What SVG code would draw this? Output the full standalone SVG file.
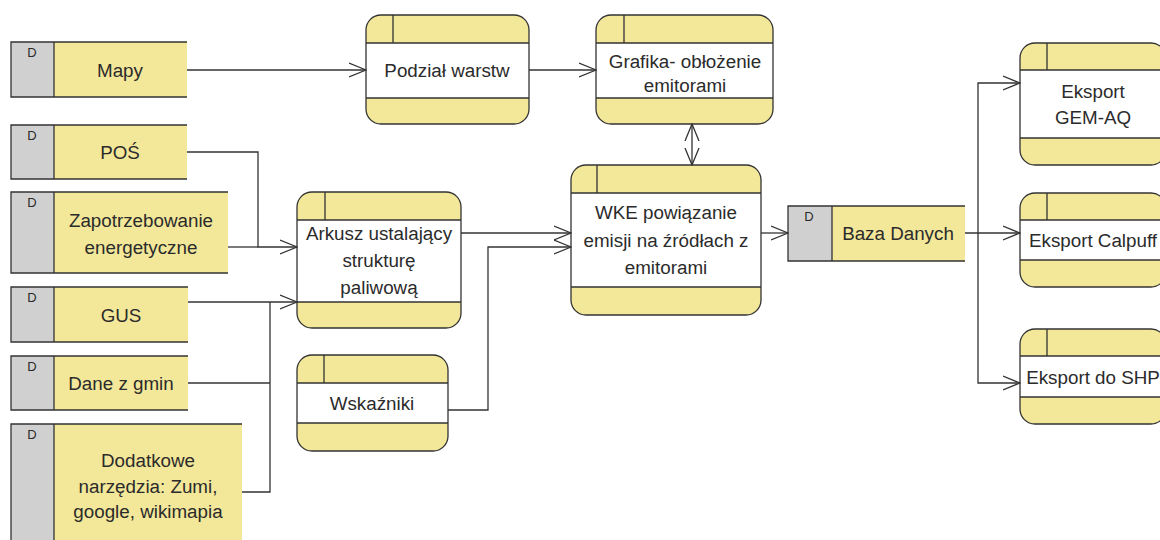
<svg xmlns="http://www.w3.org/2000/svg" width="1160" height="540" viewBox="0 0 1160 540">
  <defs>
    <style>
      .bg { fill: #ffffff; }
      .yel { fill: #f3e89a; }
      .gray { fill: #d0d0d0; }
      .body { fill: #ffffff; }
      .ln { stroke: #333333; stroke-width: 1.3; fill: none; }
      .t { font-family: "Liberation Sans", Arial, sans-serif; font-size: 18.8px; fill: #2b2b2b; text-anchor: middle; }
      .d { font-family: "Liberation Sans", Arial, sans-serif; font-size: 13px; fill: #2b2b2b; text-anchor: middle; }
      .conn { stroke: #333333; stroke-width: 1.3; fill: none; }
    </style>
    <marker id="arrow" viewBox="0 0 18 16" refX="17" refY="8" markerWidth="18" markerHeight="16" markerUnits="userSpaceOnUse" orient="auto-start-reverse">
      <path d="M0,1 L17,8 L0,15" fill="none" stroke="#333333" stroke-width="1.3"/>
    </marker>
  </defs>

  <rect class="bg" x="0" y="0" width="1160" height="540"/>

  <!-- data stores: grey tag with "D", yellow body, open on the right -->
  <g id="store-mapy">
    <rect class="gray" x="11" y="42" width="43" height="55"/>
    <rect class="yel" x="54" y="42" width="133" height="55"/>
    <path class="ln" d="M187,42 H11 V97 H187 M54,42 V97"/>
    <text class="d" x="32" y="57">D</text>
    <text class="t" x="120" y="77">Mapy</text>
  </g>
  <g id="store-pos">
    <rect class="gray" x="11" y="125" width="43" height="54"/>
    <rect class="yel" x="54" y="125" width="133" height="54"/>
    <path class="ln" d="M187,125 H11 V179 H187 M54,125 V179"/>
    <text class="d" x="32" y="140">D</text>
    <text class="t" x="120" y="159">POŚ</text>
  </g>
  <g id="store-zapotrzebowanie">
    <rect class="gray" x="11" y="192" width="43" height="81"/>
    <rect class="yel" x="54" y="192" width="174" height="81"/>
    <path class="ln" d="M228,192 H11 V273 H228 M54,192 V273"/>
    <text class="d" x="32" y="207">D</text>
    <text class="t" x="141" y="227">Zapotrzebowanie</text>
    <text class="t" x="141" y="254">energetyczne</text>
  </g>
  <g id="store-gus">
    <rect class="gray" x="11" y="287" width="43" height="55"/>
    <rect class="yel" x="54" y="287" width="134" height="55"/>
    <path class="ln" d="M188,287 H11 V342 H188 M54,287 V342"/>
    <text class="d" x="32" y="302">D</text>
    <text class="t" x="121" y="322">GUS</text>
  </g>
  <g id="store-dane-z-gmin">
    <rect class="gray" x="11" y="356" width="43" height="54"/>
    <rect class="yel" x="54" y="356" width="134" height="54"/>
    <path class="ln" d="M188,356 H11 V410 H188 M54,356 V410"/>
    <text class="d" x="32" y="371">D</text>
    <text class="t" x="121" y="390">Dane z gmin</text>
  </g>
  <g id="store-dodatkowe">
    <rect class="gray" x="11" y="424" width="43" height="118"/>
    <rect class="yel" x="54" y="424" width="188" height="118"/>
    <path class="ln" d="M242,424 H11 V542 M54,424 V542"/>
    <text class="d" x="32" y="439">D</text>
    <text class="t" x="148" y="467">Dodatkowe</text>
    <text class="t" x="148" y="493">narzędzia: Zumi,</text>
    <text class="t" x="148" y="518">google, wikimapia</text>
  </g>
  <g id="store-baza-danych">
    <rect class="gray" x="788" y="206" width="44" height="55"/>
    <rect class="yel" x="832" y="206" width="133" height="55"/>
    <path class="ln" d="M965,206 H788 V261 H965 M832,206 V261"/>
    <text class="d" x="809" y="221">D</text>
    <text class="t" x="898" y="240">Baza Danych</text>
  </g>

  <!-- processes: rounded box, yellow header and footer, white body -->
  <g id="proc-podzial">
    <rect class="yel" x="366" y="15" width="163" height="109" rx="15"/>
    <rect class="body" x="366" y="43" width="163" height="55"/>
    <rect class="ln" x="366" y="15" width="163" height="109" rx="15"/>
    <path class="ln" d="M366,43 H529 M366,98 H529 M393,15 V43"/>
    <text class="t" x="447" y="77">Podział warstw</text>
  </g>
  <g id="proc-grafika">
    <rect class="yel" x="596" y="15" width="177" height="109" rx="15"/>
    <rect class="body" x="596" y="43" width="177" height="55"/>
    <rect class="ln" x="596" y="15" width="177" height="109" rx="15"/>
    <path class="ln" d="M596,43 H773 M596,98 H773 M624,15 V43"/>
    <text class="t" x="685" y="68">Grafika- obłożenie</text>
    <text class="t" x="685" y="92">emitorami</text>
  </g>
  <g id="proc-arkusz">
    <rect class="yel" x="297" y="192" width="164" height="136" rx="15"/>
    <rect class="body" x="297" y="220" width="164" height="82"/>
    <rect class="ln" x="297" y="192" width="164" height="136" rx="15"/>
    <path class="ln" d="M297,220 H461 M297,302 H461 M325,192 V220"/>
    <text class="t" x="379" y="240">Arkusz ustalający</text>
    <text class="t" x="379" y="267">strukturę</text>
    <text class="t" x="379" y="294">paliwową</text>
  </g>
  <g id="proc-wke">
    <rect class="yel" x="571" y="165" width="190" height="150" rx="15"/>
    <rect class="body" x="571" y="193" width="190" height="94"/>
    <rect class="ln" x="571" y="165" width="190" height="150" rx="15"/>
    <path class="ln" d="M571,193 H761 M571,287 H761 M597,165 V193"/>
    <text class="t" x="666" y="219">WKE powiązanie</text>
    <text class="t" x="666" y="247">emisji na źródłach z</text>
    <text class="t" x="666" y="274">emitorami</text>
  </g>
  <g id="proc-wskazniki">
    <rect class="yel" x="297" y="355" width="151" height="96" rx="15"/>
    <rect class="body" x="297" y="383" width="151" height="40"/>
    <rect class="ln" x="297" y="355" width="151" height="96" rx="15"/>
    <path class="ln" d="M297,383 H448 M297,423 H448 M324,355 V383"/>
    <text class="t" x="372" y="410">Wskaźniki</text>
  </g>
  <g id="proc-eksport-gemaq">
    <rect class="yel" x="1020" y="43" width="146" height="122" rx="15"/>
    <rect class="body" x="1020" y="70" width="146" height="68"/>
    <rect class="ln" x="1020" y="43" width="146" height="122" rx="15"/>
    <path class="ln" d="M1020,70 H1166 M1020,138 H1166 M1047,43 V70"/>
    <text class="t" x="1093" y="98">Eksport</text>
    <text class="t" x="1093" y="124">GEM-AQ</text>
  </g>
  <g id="proc-eksport-calpuff">
    <rect class="yel" x="1020" y="193" width="146" height="94" rx="15"/>
    <rect class="body" x="1020" y="220" width="146" height="40"/>
    <rect class="ln" x="1020" y="193" width="146" height="94" rx="15"/>
    <path class="ln" d="M1020,220 H1166 M1020,260 H1166 M1047,193 V220"/>
    <text class="t" x="1093" y="247">Eksport Calpuff</text>
  </g>
  <g id="proc-eksport-shp">
    <rect class="yel" x="1020" y="329" width="146" height="95" rx="15"/>
    <rect class="body" x="1020" y="356" width="146" height="41"/>
    <rect class="ln" x="1020" y="329" width="146" height="95" rx="15"/>
    <path class="ln" d="M1020,356 H1166 M1020,397 H1166 M1047,329 V356"/>
    <text class="t" x="1093" y="384">Eksport do SHP</text>
  </g>

  <!-- data flows -->
  <g id="connectors">
    <path class="conn" d="M187,70 H366" marker-end="url(#arrow)"/>
    <path class="conn" d="M529,70 H596" marker-end="url(#arrow)"/>
    <path class="conn" d="M692,124 V165" marker-start="url(#arrow)" marker-end="url(#arrow)"/>
    <path class="conn" d="M187,152 H258 V247 H297" marker-end="url(#arrow)"/>
    <path class="conn" d="M228,247 H258"/>
    <path class="conn" d="M188,302 H297" marker-end="url(#arrow)"/>
    <path class="conn" d="M188,383 H270"/>
    <path class="conn" d="M242,492 H270 V302"/>
    <path class="conn" d="M461,233 H571" marker-end="url(#arrow)"/>
    <path class="conn" d="M448,410 H488 V247 H571" marker-end="url(#arrow)"/>
    <path class="conn" d="M761,233 H788" marker-end="url(#arrow)"/>
    <path class="conn" d="M965,233 H1020" marker-end="url(#arrow)"/>
    <path class="conn" d="M978,233 V83 H1020" marker-end="url(#arrow)"/>
    <path class="conn" d="M978,233 V383 H1020" marker-end="url(#arrow)"/>
  </g>
</svg>
